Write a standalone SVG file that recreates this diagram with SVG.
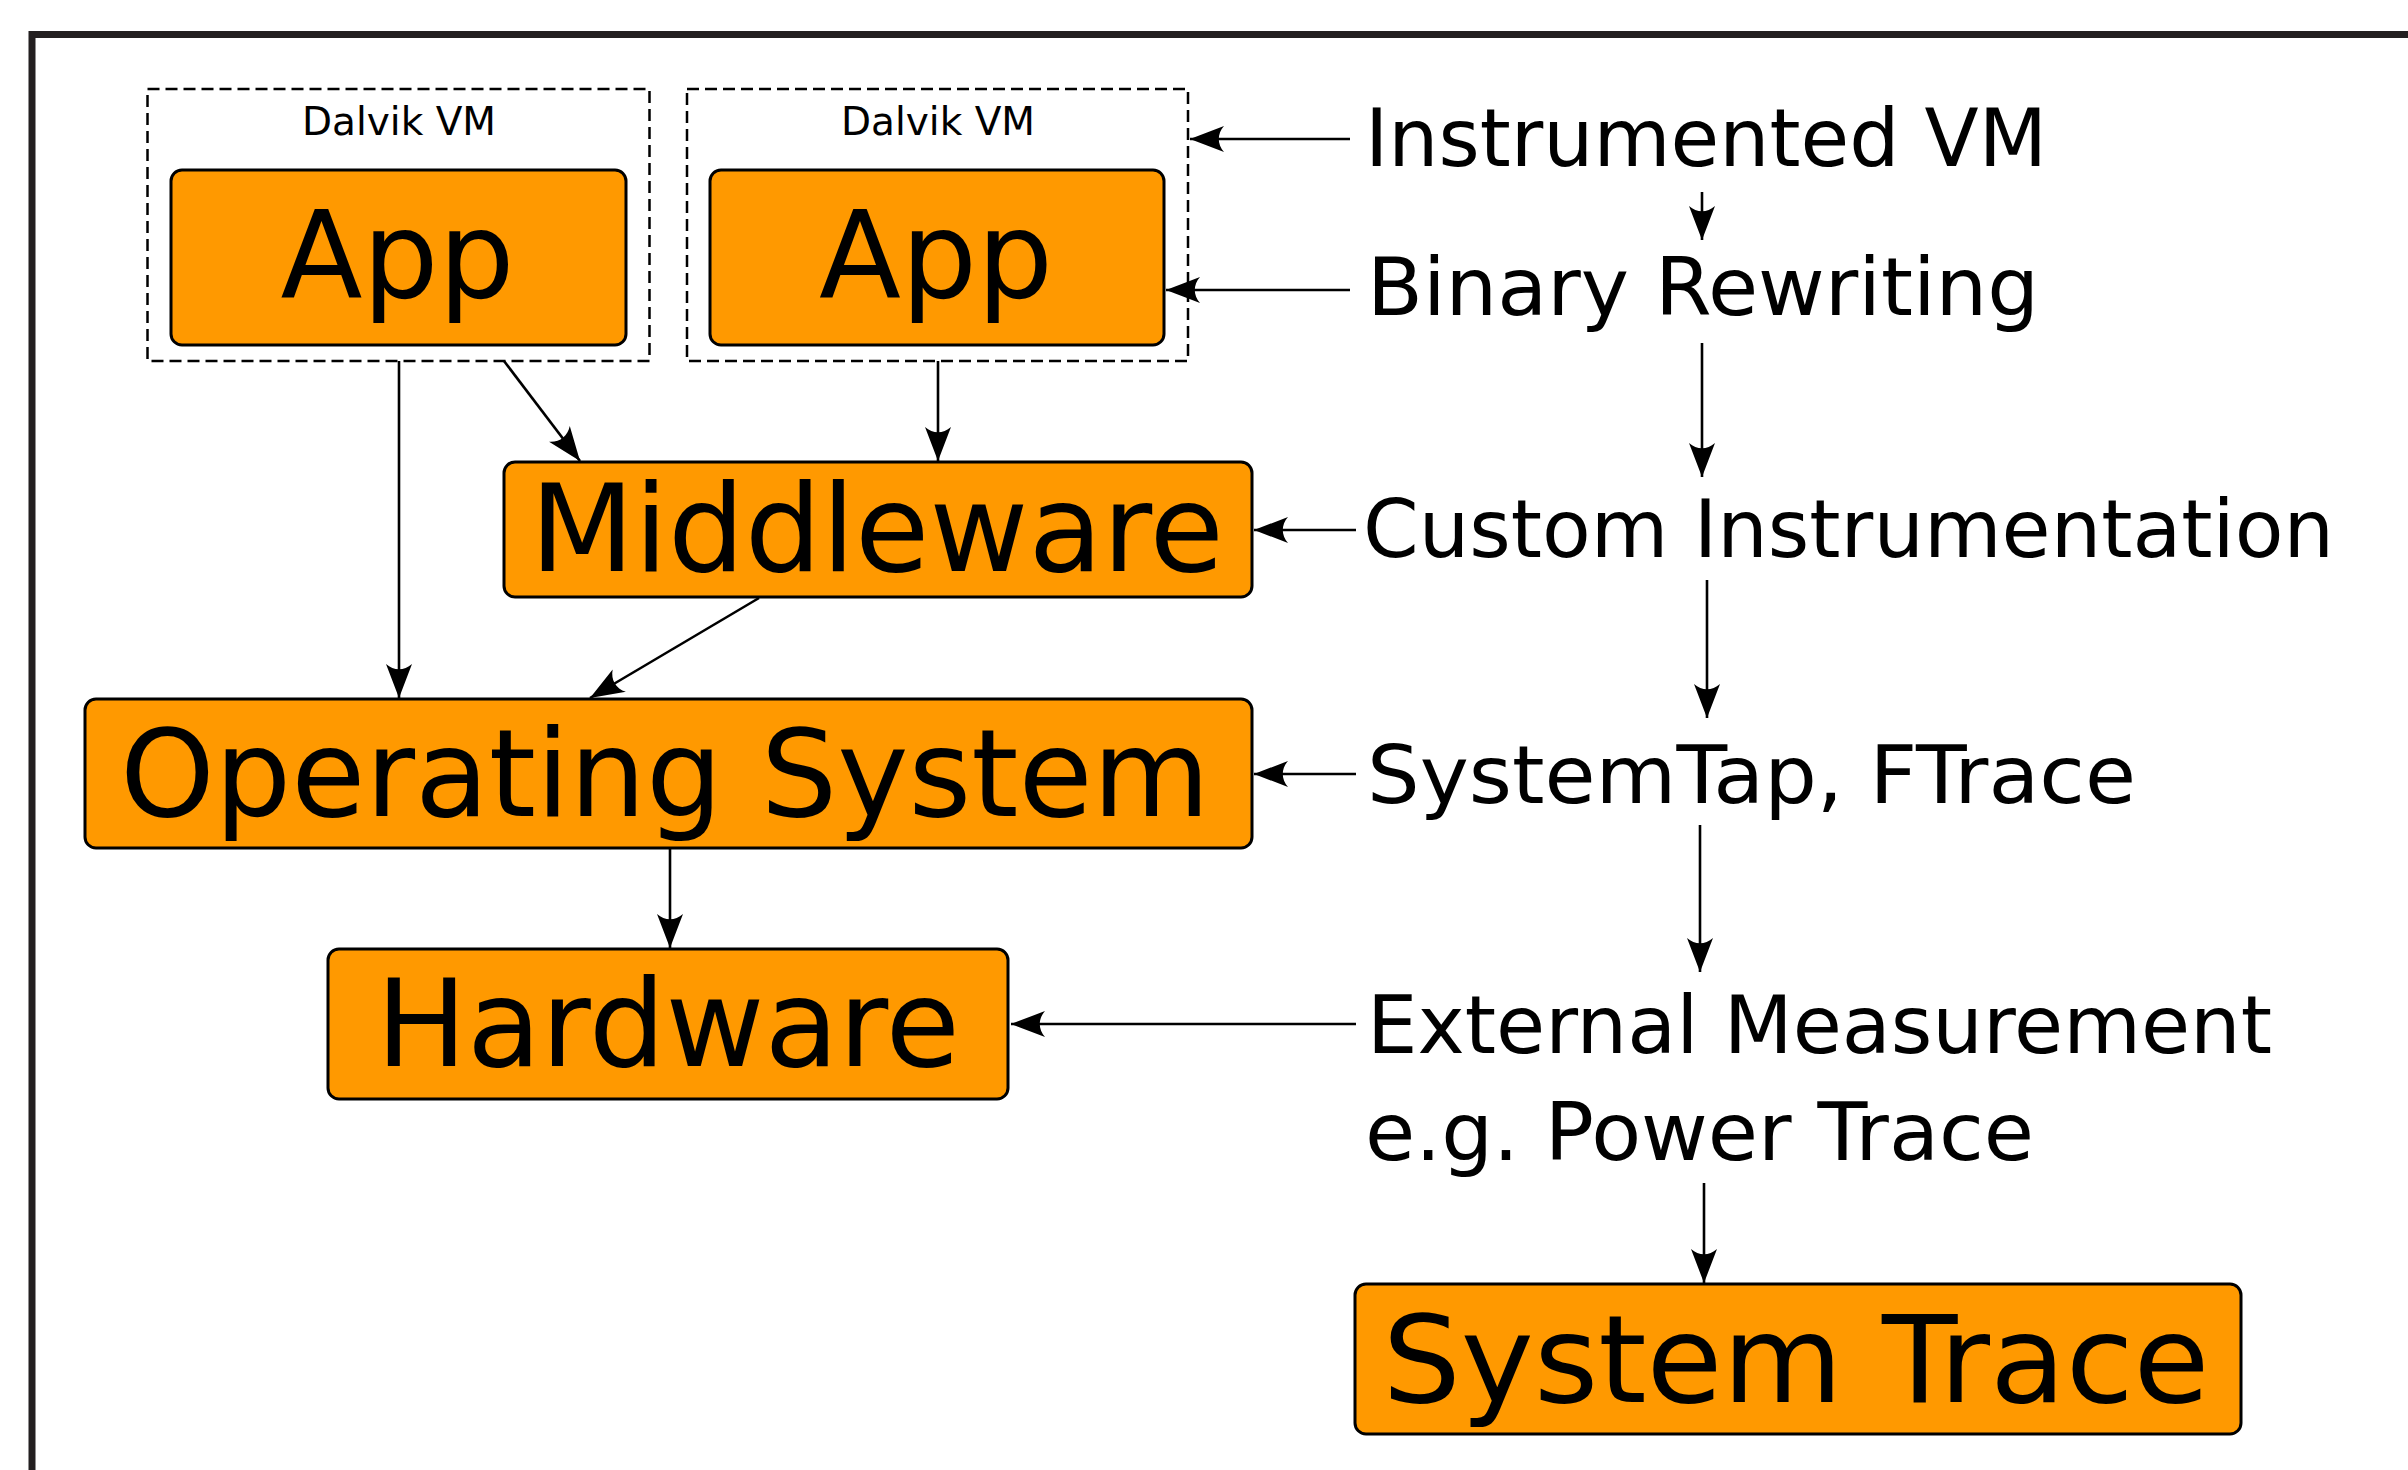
<svg xmlns="http://www.w3.org/2000/svg" width="2408" height="1470" viewBox="0 0 2408 1470">
<style>
.frame{fill:none;stroke:#231f20;stroke-width:7}
.vm{fill:none;stroke:#000;stroke-width:2.5;stroke-dasharray:12,6}
.box{fill:#ff9900;stroke:#000;stroke-width:3}
.big{font-family:"DejaVu Sans",sans-serif;font-size:121px;fill:#000;text-anchor:middle}
.small{font-family:"DejaVu Sans",sans-serif;font-size:39px;fill:#000;text-anchor:middle}
.lab{font-family:"DejaVu Sans",sans-serif;font-size:80px;fill:#000}
.con{fill:none;stroke:#000;stroke-width:2.6;marker-end:url(#ah)}
</style>
<defs>
<marker id="ah" markerUnits="userSpaceOnUse" markerWidth="40" markerHeight="30" viewBox="-36 -15 40 30" refX="0" refY="0" orient="auto" overflow="visible">
<path d="M 0,0 L -34,-13 C -27,-5 -27,5 -34,13 Z" fill="#000"/>
</marker>
</defs>
<path class="frame" d="M 32,1475 L 32,34.5 L 2415,34.5"/>
<g id="vm1">
<rect class="vm" x="147.5" y="89" width="502" height="272"/>
<text class="small" x="399" y="135">Dalvik VM</text>
</g>
<g id="vm2">
<rect class="vm" x="687" y="89" width="501" height="272"/>
<text class="small" x="938" y="135">Dalvik VM</text>
</g>
<g id="app1">
<rect class="box" x="171" y="170" width="455" height="175" rx="11"/>
<text class="big" x="397.5" y="298" textLength="234" lengthAdjust="spacingAndGlyphs">App</text>
</g>
<g id="app2">
<rect class="box" x="710" y="170" width="454" height="175" rx="11"/>
<text class="big" x="936" y="298" textLength="234" lengthAdjust="spacingAndGlyphs">App</text>
</g>
<g id="middleware">
<rect class="box" x="504" y="462" width="748" height="135" rx="11"/>
<text class="big" x="877" y="571" textLength="694" lengthAdjust="spacingAndGlyphs">Middleware</text>
</g>
<g id="os">
<rect class="box" x="85" y="699" width="1167" height="149" rx="11"/>
<text class="big" x="665" y="816" textLength="1090" lengthAdjust="spacingAndGlyphs">Operating System</text>
</g>
<g id="hardware">
<rect class="box" x="328" y="949" width="680" height="150" rx="11"/>
<text class="big" x="668" y="1066" textLength="584" lengthAdjust="spacingAndGlyphs">Hardware</text>
</g>
<g id="systemtrace">
<rect class="box" x="1355" y="1284" width="886" height="150" rx="11"/>
<text class="big" x="1796" y="1402" textLength="827" lengthAdjust="spacingAndGlyphs">System Trace</text>
</g>
<g id="labels">
<text class="lab" x="1365" y="166" textLength="682" lengthAdjust="spacingAndGlyphs">Instrumented VM</text>
<text class="lab" x="1367" y="315" textLength="672" lengthAdjust="spacingAndGlyphs">Binary Rewriting</text>
<text class="lab" x="1363" y="557" textLength="971" lengthAdjust="spacingAndGlyphs">Custom Instrumentation</text>
<text class="lab" x="1367" y="803" textLength="769" lengthAdjust="spacingAndGlyphs">SystemTap, FTrace</text>
<text class="lab" x="1367" y="1053" textLength="905" lengthAdjust="spacingAndGlyphs">External Measurement</text>
<text class="lab" x="1365" y="1160" textLength="669" lengthAdjust="spacingAndGlyphs">e.g. Power Trace</text>
</g>
<g id="connectors">
<line class="con" x1="1350" y1="139" x2="1190" y2="139"/>
<line class="con" x1="1350" y1="290" x2="1166" y2="290"/>
<line class="con" x1="1702" y1="192" x2="1702" y2="240"/>
<line class="con" x1="1702" y1="343" x2="1702" y2="477"/>
<line class="con" x1="1356" y1="530" x2="1254" y2="530"/>
<line class="con" x1="1707" y1="580" x2="1707" y2="718"/>
<line class="con" x1="1356" y1="774" x2="1254" y2="774"/>
<line class="con" x1="1700" y1="825" x2="1700" y2="972"/>
<line class="con" x1="1356" y1="1024" x2="1011" y2="1024"/>
<line class="con" x1="1704" y1="1183" x2="1704" y2="1283"/>
<line class="con" x1="399" y1="361" x2="399" y2="698"/>
<line class="con" x1="504" y1="361" x2="580" y2="461"/>
<line class="con" x1="938" y1="361" x2="938" y2="461"/>
<line class="con" x1="759" y1="598" x2="590" y2="698"/>
<line class="con" x1="670" y1="849" x2="670" y2="948"/>
</g>
</svg>
